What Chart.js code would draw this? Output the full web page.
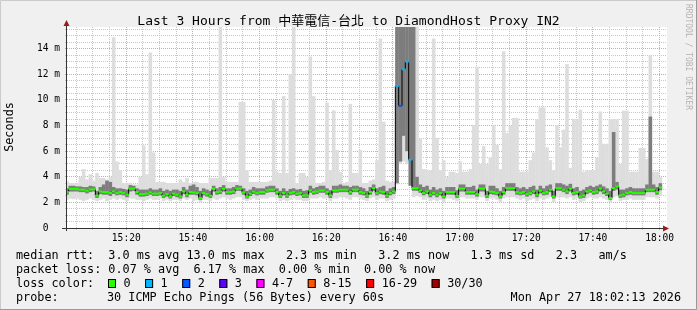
<!DOCTYPE html>
<html>
<head>
<meta charset="utf-8">
<title>Last 3 Hours from 中華電信-台北 to DiamondHost Proxy IN2</title>
<script src="https://cdn.jsdelivr.net/npm/chart.js@4.4.1/dist/chart.umd.min.js"></script>
<style>
  html, body { margin: 0; padding: 0; background: #f0f0f0; }
  #wrap { width: 697px; height: 310px; }
</style>
</head>
<body>
<div id="wrap"><canvas id="pingChart" width="697" height="310"></canvas></div>
<script>
// One bin per minute, the first one sits on the left edge (15:02:13)
const firstMinute = 2.22; // minutes after 15:00
const lastMinute = 182.22; // 18:02:13

// Median rtt per minute (ms)
const median = [
  2.81, 3.05, 3.05, 3.05, 2.99, 2.99, 2.91, 3.02, 3.02, 2.52,
  2.86, 2.81, 2.81, 2.73, 2.86, 2.73, 2.81, 2.73, 2.60, 3.07,
  3.07, 2.81, 2.65, 2.65, 2.68, 2.78, 2.68, 2.68, 2.73, 2.52,
  2.65, 2.47, 2.68, 2.60, 2.47, 2.86, 2.60, 2.81, 2.78, 2.73,
  2.34, 2.73, 2.65, 2.52, 3.05, 2.81, 2.86, 3.05, 2.81, 2.81,
  2.86, 3.07, 3.07, 2.78, 2.47, 2.68, 2.83, 2.73, 2.81, 2.81,
  2.94, 2.99, 2.99, 2.81, 2.52, 2.73, 2.55, 2.73, 2.81, 2.68,
  2.73, 2.55, 2.55, 2.94, 2.81, 2.86, 2.94, 2.94, 2.81, 2.55,
  2.94, 2.94, 2.99, 2.99, 2.99, 2.81, 2.99, 2.99, 2.81, 2.73,
  2.55, 2.81, 3.12, 2.73, 2.86, 2.81, 2.55, 2.73, 2.86, 11.1,
  9.55, 12.4, 13.0, 5.34, 3.12, 3.12, 2.94, 2.73, 2.86, 2.60,
  2.73, 2.60, 2.73, 2.47, 2.81, 2.81, 2.81, 2.52, 3.07, 3.07,
  2.81, 2.81, 2.81, 2.65, 3.07, 3.07, 2.52, 2.86, 2.81, 2.73,
  2.47, 2.81, 3.12, 3.12, 3.12, 2.81, 2.73, 2.81, 2.65, 2.73,
  2.86, 2.60, 2.91, 2.73, 2.81, 2.99, 2.47, 3.12, 3.12, 2.99,
  2.86, 3.07, 2.73, 2.81, 2.47, 2.55, 2.86, 2.94, 2.81, 2.86,
  3.07, 2.86, 2.68, 2.34, 3.12, 3.25, 2.55, 2.60, 2.73, 2.81,
  2.73, 2.73, 2.73, 2.73, 2.99, 2.99, 2.99, 2.81, 3.17
];

// Lowest and highest ping of each minute (light smoke)
const smokeMin = [
  2.2, 2.3, 2.25, 2.3, 2.2, 2.1, 2.2, 2.3, 2.2, 2.1,
  2.2, 2.3, 2.1, 2.2, 2.3, 2.2, 2.3, 2.2, 2.1, 2.3,
  2.3, 2.2, 2.2, 2.1, 2.2, 2.3, 2.2, 2.2, 2.3, 2.1,
  2.2, 2.1, 2.2, 2.2, 2.1, 2.3, 2.2, 2.3, 2.1, 2.2,
  2.0, 2.2, 2.2, 2.1, 2.3, 2.2, 2.3, 2.4, 2.3, 2.2,
  2.3, 2.4, 2.4, 2.2, 2.1, 2.2, 2.3, 2.2, 2.3, 2.3,
  2.3, 2.4, 2.4, 2.3, 2.1, 2.2, 2.1, 2.2, 2.3, 2.2,
  2.2, 2.1, 2.1, 2.3, 2.3, 2.3, 2.4, 2.3, 2.3, 2.1,
  2.3, 2.3, 2.4, 2.4, 2.3, 2.2, 2.4, 2.4, 2.3, 2.2,
  2.1, 2.3, 2.4, 2.2, 2.3, 2.3, 2.1, 2.2, 2.3, 3.4,
  5.0, 5.2, 5.0, 3.3, 2.4, 2.5, 2.4, 2.2, 2.3, 2.1,
  2.2, 2.1, 2.2, 2.0, 2.3, 2.3, 2.2, 2.1, 2.4, 2.4,
  2.3, 2.3, 2.3, 2.2, 2.4, 2.4, 2.1, 2.3, 2.3, 2.2,
  2.0, 2.3, 2.4, 2.4, 2.4, 2.3, 2.2, 2.3, 2.1, 2.2,
  2.3, 2.1, 2.3, 2.2, 2.3, 2.4, 2.0, 2.4, 2.4, 2.4,
  2.3, 2.4, 2.2, 2.3, 2.0, 2.1, 2.3, 2.4, 2.3, 2.3,
  2.4, 2.3, 2.2, 2.0, 2.4, 2.5, 2.1, 2.2, 2.2, 2.3,
  2.2, 2.2, 2.2, 2.2, 2.4, 2.4, 2.4, 2.3, 2.5
];
const smokeMax = [
  3.64, 3.5, 3.5, 3.5, 4.0, 4.6, 3.8, 4.2, 3.7, 4.3,
  3.9, 3.9, 3.8, 4.0, 14.9, 5.2, 4.5, 3.5, 3.5, 3.5,
  3.4, 3.4, 4.0, 6.45, 4.2, 13.7, 5.9, 3.6, 3.6, 3.6,
  3.5, 3.5, 3.5, 3.5, 3.8, 3.6, 3.9, 3.5, 3.6, 3.6,
  3.5, 3.5, 3.5, 3.9, 3.9, 3.9, 15.7, 4.0, 3.6, 3.6,
  3.6, 3.6, 9.85, 9.85, 4.5, 3.6, 3.6, 3.6, 3.6, 3.6,
  3.6, 3.7, 10.0, 4.4, 4.3, 10.3, 4.3, 12.0, 15.7, 3.5,
  4.3, 4.3, 4.0, 13.4, 10.3, 3.5, 3.5, 3.6, 9.8, 4.5,
  9.2, 6.1, 4.4, 3.5, 3.6, 9.7, 4.3, 4.3, 6.1, 3.5,
  3.5, 3.7, 3.8, 5.3, 14.8, 8.3, 3.7, 3.6, 3.6, 15.7,
  15.7, 15.7, 15.7, 15.7, 15.7, 15.7, 7.0, 4.6, 4.5, 4.5,
  14.8, 7.05, 4.5, 5.3, 4.0, 4.4, 4.4, 4.3, 5.2, 4.4,
  4.4, 4.6, 8.06, 12.6, 5.0, 6.4, 5.0, 5.5, 8.06, 6.5,
  4.6, 13.8, 7.42, 8.0, 8.6, 8.6, 4.4, 4.4, 4.4, 5.3,
  5.9, 8.5, 9.42, 9.42, 6.3, 5.3, 4.5, 8.06, 6.3, 7.68,
  12.8, 4.7, 8.5, 8.5, 9.24, 4.4, 4.5, 4.5, 4.5, 5.5,
  9.1, 6.58, 6.58, 8.5, 8.5, 8.5, 5.0, 9.17, 9.17, 4.4,
  4.4, 4.4, 6.25, 6.25, 5.4, 13.5, 4.4, 4.4, 4.0
];

// Where most of the pings of each minute landed (dark smoke)
const coreLow = [
  2.6, 2.85, 2.85, 2.85, 2.8, 2.8, 2.7, 2.8, 2.85, 2.35,
  2.65, 2.6, 2.6, 2.5, 2.65, 2.55, 2.6, 2.55, 2.4, 2.85,
  2.9, 2.6, 2.45, 2.45, 2.5, 2.6, 2.5, 2.5, 2.55, 2.35,
  2.45, 2.3, 2.5, 2.4, 2.3, 2.65, 2.4, 2.6, 2.6, 2.55,
  2.2, 2.55, 2.45, 2.35, 2.85, 2.6, 2.65, 2.85, 2.6, 2.6,
  2.65, 2.9, 2.9, 2.6, 2.3, 2.5, 2.65, 2.55, 2.6, 2.6,
  2.75, 2.8, 2.8, 2.6, 2.35, 2.55, 2.35, 2.55, 2.6, 2.5,
  2.55, 2.35, 2.35, 2.75, 2.6, 2.65, 2.75, 2.75, 2.6, 2.35,
  2.75, 2.75, 2.8, 2.8, 2.8, 2.6, 2.8, 2.8, 2.6, 2.55,
  2.35, 2.6, 2.9, 2.55, 2.65, 2.6, 2.35, 2.55, 2.65, 3.5,
  5.2, 7.2, 6.0, 3.3, 2.9, 2.9, 2.75, 2.55, 2.65, 2.4,
  2.55, 2.4, 2.55, 2.3, 2.6, 2.6, 2.6, 2.35, 2.85, 2.85,
  2.6, 2.6, 2.6, 2.45, 2.85, 2.85, 2.35, 2.65, 2.6, 2.55,
  2.3, 2.6, 2.9, 2.9, 2.9, 2.6, 2.55, 2.6, 2.45, 2.55,
  2.65, 2.4, 2.7, 2.55, 2.6, 2.8, 2.3, 2.9, 2.9, 2.8,
  2.65, 2.85, 2.55, 2.6, 2.3, 2.35, 2.65, 2.75, 2.6, 2.65,
  2.85, 2.65, 2.5, 2.2, 2.9, 3.0, 2.35, 2.4, 2.55, 2.6,
  2.55, 2.55, 2.55, 2.55, 2.8, 2.8, 2.8, 2.6, 2.95
];
const coreHigh = [
  3.1, 3.3, 3.3, 3.25, 3.25, 3.2, 3.2, 3.3, 3.25, 2.9,
  3.2, 3.4, 3.7, 3.6, 3.2, 3.1, 3.1, 3.05, 3.0, 3.35,
  3.3, 3.1, 3.0, 3.0, 3.0, 3.1, 3.0, 3.0, 3.1, 2.9,
  3.0, 2.9, 3.0, 3.0, 2.9, 3.2, 3.0, 3.3, 3.4, 3.2,
  2.9, 3.1, 3.0, 2.9, 3.3, 3.1, 3.2, 3.35, 3.1, 3.1,
  3.2, 3.35, 3.3, 3.1, 2.9, 3.0, 3.2, 3.1, 3.1, 3.1,
  3.25, 3.3, 3.3, 3.1, 2.9, 3.1, 2.9, 3.05, 3.1, 3.0,
  3.05, 2.9, 2.95, 3.3, 3.1, 3.2, 3.3, 3.3, 3.1, 2.95,
  3.3, 3.3, 3.4, 3.3, 3.3, 3.2, 3.3, 3.3, 3.2, 3.1,
  2.9, 3.2, 3.4, 3.1, 3.2, 3.3, 2.9, 3.1, 3.2, 15.7,
  15.7, 15.7, 15.7, 15.7, 15.7, 4.0, 3.4, 3.2, 3.3, 3.0,
  3.2, 3.0, 3.1, 2.9, 3.2, 3.2, 3.2, 2.95, 3.4, 3.4,
  3.2, 3.2, 3.3, 3.0, 3.4, 3.4, 2.9, 3.3, 3.3, 3.1,
  2.9, 3.2, 3.5, 3.5, 3.5, 3.2, 3.1, 3.2, 3.05, 3.2,
  3.3, 3.0, 3.3, 3.1, 3.3, 3.4, 2.9, 3.5, 3.5, 3.4,
  3.3, 3.45, 3.1, 3.2, 2.9, 3.0, 3.2, 3.3, 3.2, 3.3,
  3.4, 3.25, 3.1, 2.9, 7.5, 3.6, 3.0, 3.0, 3.1, 3.2,
  3.1, 3.1, 3.1, 3.1, 3.4, 8.7, 3.4, 3.2, 3.5
];

// Minutes that lost pings (index into the arrays above) and how many of 30
const lossBins = [99, 100, 101, 102, 103];
const lossCounts = [1, 2, 1, 1, 1];

// SmokePing loss colour legend
const lossLabels = ['0', '1', '2', '3', '4-7', '8-15', '16-29', '30/30'];
const lossColors = ['#26ff00', '#00b8ff', '#0059ff', '#5e00ff', '#ff00ff', '#ff5500', '#ff0000', '#a10000'];
const lossBucketStart = [0, 1, 2, 3, 4, 8, 16, 30];

const statLines = [
  'median rtt:  3.0 ms avg 13.0 ms max   2.3 ms min   3.2 ms now   1.3 ms sd   2.3   am/s',
  'packet loss: 0.07 % avg  6.17 % max  0.00 % min  0.00 % now'
];
const probeText = '30 ICMP Echo Pings (56 Bytes) every 60s';
const stampText = 'Mon Apr 27 18:02:13 2026';
const titleText = 'Last 3 Hours from 中華電信-台北 to DiamondHost Proxy IN2';

const monoFamily = '"DejaVu Sans Mono", "Noto Sans CJK TC", monospace';

// tick positions: every 5 minutes on x, every 0.5 ms on y
const xTicks = [];
for (let m = 5; m <= 180; m += 5) xTicks.push(m);
const yTicks = [];
for (let v = 0; v <= 15.5; v += 0.5) yTicks.push(v);

const binMinutes = median.map((v, i) => firstMinute + i);

function lossFor(i) {
    const k = lossBins.indexOf(i);
    const count = k < 0 ? 0 : lossCounts[k];
    let bucket = 0;
    lossBucketStart.forEach((start, b) => { if (count >= start) bucket = b; });
    return lossColors[bucket];
}

function timeLabel(m) {
    const h = 15 + Math.floor(m / 60);
    const mm = m % 60;
    return h + ':' + (mm < 10 ? '0' : '') + mm;
}

// half a minute in pixels, for the median markers
function halfBin(ctx) {
    const x = ctx.chart.scales.x;
    return (x.getPixelForValue(1) - x.getPixelForValue(0)) / 2 + 0.2;
}

// Paint the grey page, white canvas, frame, axes and all the text
const smokepingDecor = {
    id: 'smokepingDecor',
    beforeDraw(chart) {
        const c = chart.ctx;
        const a = chart.chartArea;
        c.save();
        c.fillStyle = '#f0f0f0';
        c.fillRect(0, 0, chart.width, chart.height);
        c.fillStyle = '#ffffff';
        c.fillRect(a.left, a.top, a.right - a.left, a.bottom - a.top);
        c.restore();
    },
    afterDraw(chart) {
        const c = chart.ctx;
        const a = chart.chartArea;
        c.save();

        // frame
        c.lineWidth = 1;
        c.strokeStyle = '#cbcbcb';
        c.beginPath();
        c.moveTo(0.5, chart.height); c.lineTo(0.5, 0.5); c.lineTo(chart.width, 0.5);
        c.stroke();
        c.strokeStyle = '#999999';
        c.beginPath();
        c.moveTo(0, chart.height - 0.5); c.lineTo(chart.width - 0.5, chart.height - 0.5); c.lineTo(chart.width - 0.5, 0);
        c.stroke();

        // axes with arrows
        c.strokeStyle = '#333333';
        c.beginPath();
        c.moveTo(a.left - 5, a.bottom + 0.5); c.lineTo(a.right - 2, a.bottom + 0.5);
        c.moveTo(a.left - 0.5, a.bottom + 3); c.lineTo(a.left - 0.5, a.top - 4);
        c.stroke();
        c.fillStyle = '#9b1a1a';
        c.beginPath();
        c.moveTo(a.right - 4, a.bottom - 2.5); c.lineTo(a.right + 2, a.bottom + 0.5); c.lineTo(a.right - 4, a.bottom + 3.5);
        c.closePath(); c.fill();
        c.beginPath();
        c.moveTo(a.left - 3.5, a.top - 1); c.lineTo(a.left - 0.5, a.top - 7); c.lineTo(a.left + 2.5, a.top - 1);
        c.closePath(); c.fill();

        // title
        c.fillStyle = '#000000';
        c.font = '13px ' + monoFamily;
        c.textAlign = 'center';
        c.textBaseline = 'middle';
        c.fillText(titleText, chart.width / 2, 22);

        // y axis title
        c.font = '11.8px ' + monoFamily;
        c.save();
        c.translate(10, 127);
        c.rotate(-Math.PI / 2);
        c.fillText('Seconds', 0, 0);
        c.restore();

        // watermark on the right edge
        c.save();
        c.fillStyle = '#b4b4b4';
        c.font = '8px ' + monoFamily;
        c.translate(688, 4);
        c.rotate(Math.PI / 2);
        c.textAlign = 'left';
        c.fillText('RRDTOOL / TOBI OETIKER', 0, 0);
        c.restore();

        // statistics below the graph
        c.font = '11.8px ' + monoFamily;
        c.textAlign = 'left';
        c.fillText(statLines[0], 16, 255.5);
        c.fillText(statLines[1], 16, 269.5);
        c.fillText('loss color:', 16, 283.5);
        c.fillText('probe:', 16, 297.5);
        c.fillText(probeText, 107, 297.5);
        c.textAlign = 'right';
        c.fillText(stampText, 681, 297.5);
        c.textAlign = 'left';

        // loss colour swatches
        let x = 108;
        lossLabels.forEach((label, i) => {
            c.fillStyle = lossColors[i];
            c.fillRect(x, 279.5, 8, 8);
            c.strokeStyle = '#000000';
            c.strokeRect(x + 0.5, 279.5, 7, 8);
            c.fillStyle = '#000000';
            c.fillText(label, x + 15.5, 283.5);
            x += 15.5 + c.measureText(label).width + 14.5;
        });

        c.restore();
    }
};

const tickFont = { family: monoFamily, size: 9.6 };
const minorGrid = 'rgba(190, 190, 190, 0.85)';
const majorGrid = 'rgba(240, 120, 120, 0.75)';

const ctx = document.getElementById('pingChart').getContext('2d');
const pingChart = new Chart(ctx, {
    type: 'bar',
    data: {
        datasets: [
            {
                type: 'line',
                label: 'median markers',
                data: binMinutes.map((m, i) => ({ x: m, y: median[i] })),
                showLine: false,
                pointStyle: 'line',
                pointRadius: halfBin,
                pointBorderWidth: 2,
                pointBorderColor: ctx => lossFor(ctx.dataIndex),
                order: 1
            },
            {
                type: 'line',
                label: 'median',
                data: binMinutes.map((m, i) => ({ x: m, y: median[i] })),
                stepped: 'middle',
                borderColor: '#000000',
                borderWidth: 1,
                pointRadius: 0,
                order: 2
            },
            {
                label: 'core smoke',
                data: binMinutes.map((m, i) => ({ x: m, y: [coreLow[i], coreHigh[i]] })),
                backgroundColor: '#7d7d7d',
                borderWidth: 0,
                grouped: false,
                barPercentage: 1.08,
                categoryPercentage: 1,
                order: 3
            },
            {
                label: 'smoke',
                data: binMinutes.map((m, i) => ({ x: m, y: [smokeMin[i], smokeMax[i]] })),
                backgroundColor: '#dddddd',
                borderWidth: 0,
                grouped: false,
                barPercentage: 1.08,
                categoryPercentage: 1,
                order: 4
            }
        ]
    },
    options: {
        responsive: false,
        animation: false,
        devicePixelRatio: 1,
        events: [],
        layout: { padding: { top: 27, right: 30, left: 0, bottom: 0 } },
        plugins: {
            legend: { display: false },
            tooltip: { enabled: false },
            title: { display: false }
        },
        scales: {
            x: {
                type: 'linear',
                min: firstMinute,
                max: lastMinute,
                offset: false,
                z: 1,
                afterFit: s => { s.height = 82; },
                afterBuildTicks: s => { s.ticks = xTicks.map(v => ({ value: v })); },
                ticks: {
                    autoSkip: false,
                    maxRotation: 0,
                    padding: 3,
                    color: '#000000',
                    font: tickFont,
                    callback: v => (v % 20 === 0 ? timeLabel(v) : '')
                },
                grid: {
                    offset: false,
                    color: c => (c.tick && c.tick.value % 20 === 0 ? majorGrid : minorGrid),
                    tickColor: c => (c.tick && c.tick.value % 20 === 0 ? majorGrid : minorGrid),
                    tickLength: 2,
                    lineWidth: 1
                },
                border: { display: false, dash: [1, 1] }
            },
            y: {
                min: 0,
                max: 15.7,
                z: 1,
                afterFit: s => { s.width = 67; },
                afterBuildTicks: s => { s.ticks = yTicks.map(v => ({ value: v })); },
                ticks: {
                    autoSkip: false,
                    padding: 5,
                    color: '#000000',
                    font: tickFont,
                    callback: v => (v === 0 ? '0  ' : (v % 2 === 0 ? v + ' m' : ''))
                },
                grid: {
                    color: c => (c.tick && c.tick.value % 2 === 0 ? majorGrid : minorGrid),
                    tickColor: c => (c.tick && c.tick.value % 2 === 0 ? majorGrid : minorGrid),
                    tickLength: 2,
                    lineWidth: 1
                },
                border: { display: false, dash: [1, 1] }
            }
        }
    },
    plugins: [smokepingDecor]
});
</script>
</body>
</html>
